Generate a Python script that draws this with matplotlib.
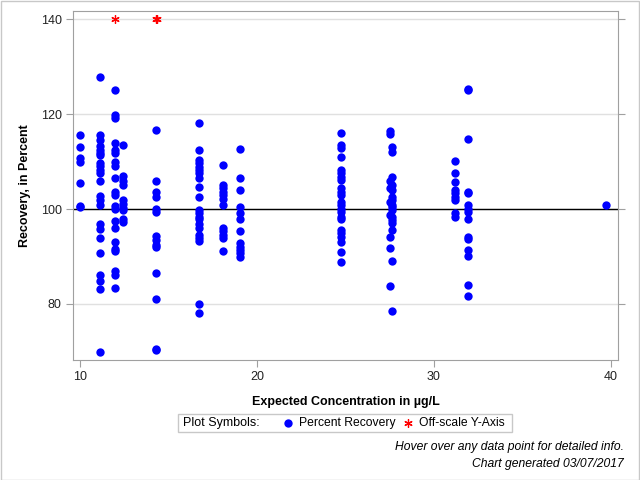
import matplotlib
matplotlib.use('Agg')
import matplotlib.pyplot as plt
from matplotlib.lines import Line2D
from matplotlib.patches import Rectangle

plt.rcParams['font.family'] = ['Liberation Sans', 'DejaVu Sans']

# expected concentration (ug/L) for each column of points
conc = [10.0, 11.1, 12.0, 12.45, 14.3, 16.7, 18.1, 19.05, 24.75, 27.5, 27.65, 31.2, 31.9, 39.7]

# percent recovery for each column
recovery = [
    [115.6, 113.0, 110.8, 109.8, 105.5, 100.7, 100.4],
    [127.8, 115.6, 114.6, 113.2, 112.5, 111.9, 111.4, 109.7, 109.0, 108.3, 107.6, 105.8,
     102.7, 102.0, 100.9, 96.9, 95.8, 94.0, 90.7, 86.2, 84.9, 83.2, 69.9],
    [125.1, 119.7, 119.2, 113.9, 112.5, 111.8, 109.8, 109.0, 106.5, 103.5, 103.0, 100.6,
     100.1, 97.4, 96.0, 93.1, 91.6, 91.2, 86.9, 86.2, 83.4],
    [113.5, 106.9, 105.8, 105.1, 102.0, 101.1, 100.2, 99.7, 97.8, 97.2],
    [116.7, 105.8, 103.5, 102.5, 99.9, 99.4, 94.4, 93.4, 92.5, 92.1, 86.5, 81.1, 70.5, 70.3],
    [118.2, 112.4, 110.3, 109.6, 108.9, 108.2, 107.5, 106.5, 104.6, 102.5, 99.8, 99.1,
     98.4, 97.9, 96.8, 95.9, 94.5, 93.8, 93.3, 80.1, 78.2],
    [109.3, 105.1, 104.4, 103.6, 102.9, 102.2, 100.8, 96.1, 95.4, 94.5, 93.8, 91.2],
    [112.6, 106.5, 104.0, 100.5, 99.1, 98.0, 95.4, 92.9, 92.1, 91.4, 90.7, 89.8],
    [116.1, 113.5, 112.8, 110.9, 108.2, 107.5, 106.8, 106.1, 104.4, 103.6, 102.9, 101.5,
     100.8, 100.1, 99.4, 98.4, 97.8, 95.6, 94.9, 94.2, 93.1, 91.0, 88.8],
    [116.5, 115.9, 105.8, 104.4, 101.5, 98.7, 94.2, 91.7, 83.8],
    [113.1, 112.1, 106.8, 105.1, 104.0, 102.6, 101.9, 100.8, 100.5, 99.8, 98.4, 97.7,
     97.0, 95.6, 89.0, 78.5],
    [110.2, 107.5, 105.6, 104.0, 103.3, 102.6, 102.0, 99.1, 98.4],
    [125.3, 125.1, 114.7, 103.6, 103.3, 100.8, 100.1, 99.4, 97.8, 94.2, 93.6, 91.4, 90.0,
     83.9, 81.6],
    [100.8],
]

# points above the y-axis range, drawn at the top
offscale_conc = [12.0, 14.3, 14.35]
offscale_y = [140, 140, 140]

star = (6, 2, 0)

fig = plt.figure(figsize=(6.4, 4.8), dpi=100)
ax = fig.add_axes([0.114, 0.25, 0.8516, 0.727])

for c, vals in zip(conc, recovery):
    ax.plot([c] * len(vals), vals, 'o', color='#0000ff', ms=6, mec='none', zorder=3)
ax.plot(offscale_conc, offscale_y, linestyle='none', marker=star, color='red', ms=6, mew=0.9, zorder=3)

ax.axhline(100, color='black', lw=1, zorder=2)
ax.set_xlim(9.6, 40.4)
ax.set_ylim(68.2, 141.7)
ax.set_xticks([10, 20, 30, 40])
ax.set_yticks([80, 100, 120, 140])
ax.grid(axis='y', color='#e0e0e0', lw=1)
ax.set_axisbelow(True)
for s in ax.spines.values():
    s.set_color('#a0a0a0')
ax.tick_params(axis='both', colors='#a0a0a0', labelcolor='#222222', labelsize=9, length=5, pad=3)
ax.tick_params(axis='y', right=True)

ax.set_xlabel('Expected Concentration in µg/L', fontsize=9, fontweight='bold', labelpad=9)
ax.set_ylabel('Recovery, in Percent', fontsize=9, fontweight='bold', labelpad=7)

# legend box
fig.patches.append(Rectangle((178 / 640, 1 - 432 / 480), 334 / 640, 18 / 480,
                             transform=fig.transFigure, fill=False, ec='#c8c8c8', lw=1))
ly = 1 - 423 / 480
fig.text(183 / 640, ly, 'Plot Symbols:', fontsize=9, va='center')
fig.lines.append(Line2D([288 / 640], [ly], transform=fig.transFigure, marker='o',
                        color='#0000ff', ms=6, mec='none'))
fig.text(299 / 640, ly, 'Percent Recovery', fontsize=8.7, va='center')
fig.lines.append(Line2D([408 / 640], [ly], transform=fig.transFigure, marker=star,
                        color='red', ms=6, mew=0.9))
fig.text(419 / 640, ly, 'Off-scale Y-Axis', fontsize=8.7, va='center')

fig.text(624 / 640, 1 - 447 / 480, 'Hover over any data point for detailed info.',
         fontsize=8.7, style='italic', ha='right', va='center')
fig.text(624 / 640, 1 - 464 / 480, 'Chart generated 03/07/2017',
         fontsize=8.7, style='italic', ha='right', va='center')

# outer frame
fig.patches.append(Rectangle((0.001, 0.001), 0.997, 0.997, transform=fig.transFigure,
                             fill=False, ec='#c8c8c8', lw=1))

fig.savefig('out.png', dpi=100)
